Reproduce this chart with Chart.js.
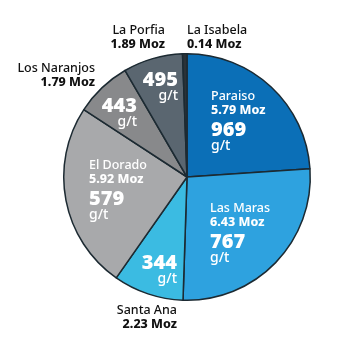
<!DOCTYPE html>
<html>
<head>
<meta charset="utf-8">
<script src="https://cdn.jsdelivr.net/npm/chart.js@4/dist/chart.umd.min.js"></script>
<style>
  html, body { margin: 0; padding: 0; background: #fff; }
  #wrap { width: 350px; height: 349px; }
</style>
</head>
<body>
<div id="wrap"><canvas id="pieChart" width="350" height="349"></canvas></div>
<script>
// Data
const mines = ["Paraiso", "Las Maras", "Santa Ana", "El Dorado", "Los Naranjos", "La Porfia", "La Isabela"];
const ounces = [5.79, 6.43, 2.23, 5.92, 1.79, 1.89, 0.14];
const grades = [969, 767, 344, 579, 443, 495, null];
const sliceColors = ["#0b6fb7", "#2ea2df", "#3bbbe2", "#a8a9ab", "#88898b", "#5a6670", "#2a3238"];

const FONT = "'Noto Sans', sans-serif";

// Label layout (pixel positions in the canvas)
// inside: name/moz/grade stacked; outside: name + moz in black
const labelLayout = [
  { inside: true, x: 211, nameY: 96, align: "left" },
  { inside: true, x: 210, nameY: 208, align: "left" },
  { inside: false, x: 177, y: 310, align: "right", gradeX: 177, gradeY: 263, gradeAlign: "right" },
  { inside: true, x: 89, nameY: 165, align: "left" },
  { inside: false, x: 95, y: 68, align: "right", gradeX: 137, gradeY: 106, gradeAlign: "right" },
  { inside: false, x: 165, y: 30, align: "right", gradeX: 178, gradeY: 80, gradeAlign: "right" },
  { inside: false, x: 187, y: 30, align: "left" },
];

const labelPlugin = {
  id: "mineLabels",
  afterDraw(chart) {
    const ctx = chart.ctx;
    ctx.save();
    ctx.textBaseline = "middle";
    mines.forEach((name, i) => {
      const l = labelLayout[i];
      const moz = ounces[i].toFixed(2) + " Moz";
      if (l.inside) {
        ctx.fillStyle = "#ffffff";
        ctx.textAlign = l.align;
        ctx.font = "500 12.5px " + FONT;
        ctx.fillText(name, l.x, l.nameY);
        ctx.font = "800 12.5px " + FONT;
        ctx.fillText(moz, l.x, l.nameY + 14);
        ctx.font = "900 20px " + FONT;
        ctx.fillText(String(grades[i]), l.x, l.nameY + 34);
        ctx.font = "500 14px " + FONT;
        ctx.fillText("g/t", l.x, l.nameY + 50);
      } else {
        ctx.fillStyle = "#111111";
        ctx.textAlign = l.align;
        ctx.font = "500 12.5px " + FONT;
        ctx.fillText(name, l.x, l.y);
        ctx.font = "800 12.5px " + FONT;
        ctx.fillText(moz, l.x, l.y + 14);
        if (grades[i] !== null) {
          ctx.fillStyle = "#ffffff";
          ctx.textAlign = l.gradeAlign;
          ctx.font = "900 20px " + FONT;
          ctx.fillText(String(grades[i]), l.gradeX, l.gradeY);
          ctx.font = "500 14px " + FONT;
          ctx.fillText("g/t", l.gradeX, l.gradeY + 16);
        }
      }
    });
    ctx.restore();
  },
};

new Chart(document.getElementById("pieChart"), {
  type: "pie",
  data: {
    labels: mines,
    datasets: [
      {
        data: ounces,
        backgroundColor: sliceColors,
        borderColor: "#1c2a32",
        borderWidth: 1.5,
      },
    ],
  },
  options: {
    responsive: false,
    animation: false,
    layout: {
      padding: { left: 63, right: 39, top: 53, bottom: 48 },
    },
    plugins: {
      legend: { display: false },
      tooltip: { enabled: false },
    },
  },
  plugins: [labelPlugin],
});
</script>
</body>
</html>
